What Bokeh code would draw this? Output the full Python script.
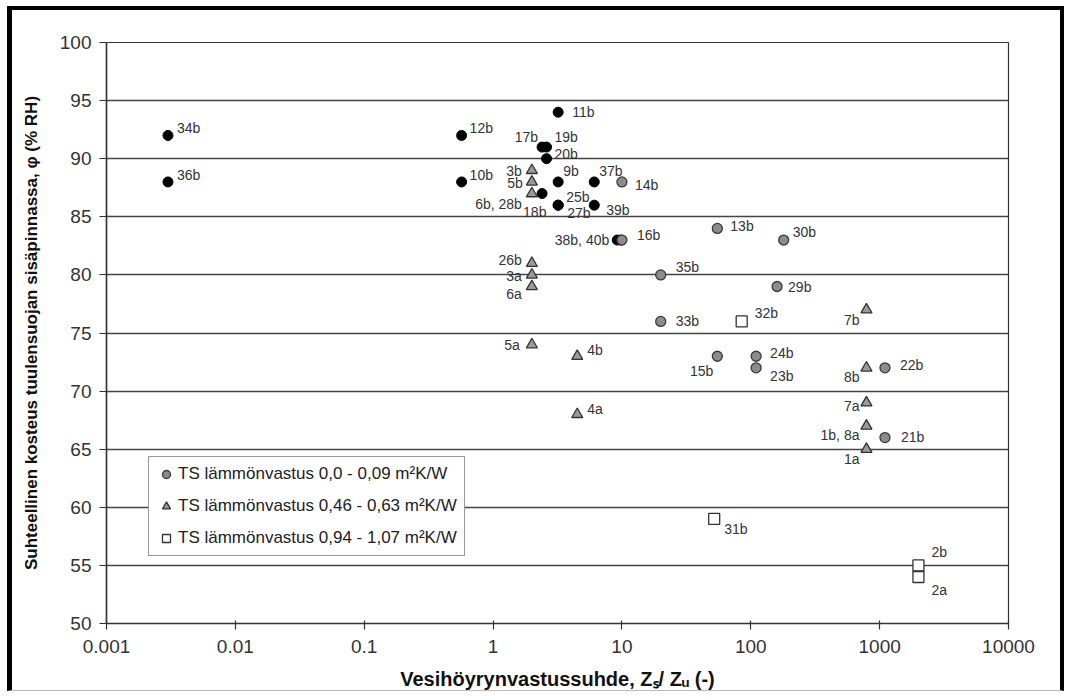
from bokeh.plotting import figure
from bokeh.models import (ColumnDataSource, FixedTicker, CustomJSTickFormatter,
                          Legend, LegendItem, Range1d)
from bokeh.embed import file_html
from bokeh.resources import INLINE
from bokeh.core.properties import value

FONT = "Liberation Sans"

# ---------------- data ----------------
# black circles (no legend entry)
black_x = [0.003, 0.003, 0.57, 0.57, 3.2, 2.4, 2.6, 2.6, 3.2, 6.1, 2.4, 3.2, 3.2, 6.1, 9.2, 9.8]
black_y = [92, 88, 92, 88, 94, 91, 91, 90, 88, 88, 87, 86, 86, 86, 83, 83]
black_lab = ["34b", "36b", "12b", "10b", "11b", "17b", "19b", "20b", "9b", "37b",
             "18b", "25b", "27b", "39b", "38b, 40b", ""]

# TS lämmönvastus 0,0 - 0,09 (grey circles)
grey_x = [10, 10, 55, 180, 20, 160, 20, 55, 110, 110, 1100, 1100]
grey_y = [88, 83, 84, 83, 80, 79, 76, 73, 73, 72, 72, 66]
grey_lab = ["14b", "16b", "13b", "30b", "35b", "29b", "33b", "15b", "24b", "23b", "22b", "21b"]

# TS lämmönvastus 0,46 - 0,63 (triangles)
tri_x = [2, 2, 2, 2, 2, 2, 2, 4.5, 4.5, 790, 790, 790, 790, 790]
tri_y = [89, 88, 87, 81, 80, 79, 74, 73, 68, 77, 72, 69, 67, 65]
tri_lab = ["3b", "5b", "6b, 28b", "26b", "3a", "6a", "5a", "4b", "4a", "7b", "8b", "7a", "1b, 8a", "1a"]

# TS lämmönvastus 0,94 - 1,07 (squares)
sq_x = [85, 52, 2000, 2000]
sq_y = [76, 59, 55, 54]
sq_lab = ["32b", "31b", "2b", "2a"]

x_ticks = [0.001, 0.01, 0.1, 1, 10, 100, 1000, 10000]
y_ticks = [50, 55, 60, 65, 70, 75, 80, 85, 90, 95, 100]

legend_labels = ["TS lämmönvastus 0,0 - 0,09 m²K/W",
                 "TS lämmönvastus 0,46 - 0,63 m²K/W",
                 "TS lämmönvastus 0,94 - 1,07 m²K/W"]

# label placement (screen px offsets, alignment) -- layout only
label_pos = {
    "34b": (9, -7, "left"), "36b": (9, -7, "left"), "12b": (8, -7, "left"),
    "10b": (8, -7, "left"), "11b": (14, 0, "left"), "17b": (-4, -10, "right"),
    "19b": (8, -10, "left"), "20b": (8, -5, "left"), "9b": (5, -11, "left"),
    "37b": (5, -11, "left"), "18b": (-19, 18, "left"), "25b": (8, -8, "left"),
    "27b": (9, 8, "left"), "39b": (12, 5, "left"), "38b, 40b": (-8, 0, "right"),
    "16b": (15, -5, "left"), "14b": (13, 3, "left"),
    "26b": (-10, -3, "right"), "3b": (-10, 1, "right"), "5b": (-9, 1, "right"),
    "6b, 28b": (-10, 10, "right"), "3a": (-10, 1, "right"), "6a": (-10, 7, "right"),
    "5a": (-12, 0, "right"), "4b": (10, -6, "left"), "4a": (10, -5, "left"),
    "13b": (13, -2, "left"), "30b": (9, -8, "left"), "35b": (15, -8, "left"),
    "29b": (11, 0, "left"), "33b": (15, 0, "left"), "32b": (13, -8, "left"),
    "7b": (-7, 10, "right"), "15b": (-4, 15, "right"), "24b": (14, -3, "left"),
    "23b": (14, 8, "left"), "8b": (-7, 9, "right"), "22b": (15, -3, "left"),
    "7a": (-7, 3, "right"), "1b, 8a": (-7, 9, "right"), "21b": (16, -1, "left"),
    "1a": (-7, 10, "right"), "31b": (10, 10, "left"), "2b": (13, -13, "left"),
    "2a": (13, 13, "left"),
}

# ---------------- figure ----------------
p = figure(width=1057, height=685, x_axis_type="log",
           x_range=Range1d(0.001, 10000), y_range=Range1d(50, 100),
           output_backend="svg", toolbar_location=None,
           min_border_left=94, min_border_right=61, min_border_top=32,
           min_border_bottom=72)
p.styles = {"margin-left": "7px", "margin-top": "6px",
            "border-left": "5px solid black", "border-top": "4px solid black",
            "border-right": "4px solid black", "border-bottom": "1px solid #bbbbbb"}
p.background_fill_color = "white"
p.border_fill_color = "white"
p.outline_line_color = "#333333"
p.outline_line_width = 1.2

p.xgrid.visible = False
p.ygrid.ticker = FixedTicker(ticks=y_ticks)
p.ygrid.grid_line_color = "#444444"
p.ygrid.grid_line_width = 1.6

p.xaxis.ticker = FixedTicker(ticks=x_ticks)
p.xaxis.formatter = CustomJSTickFormatter(code="return String(tick);")
p.yaxis.ticker = FixedTicker(ticks=y_ticks)
for ax in (p.xaxis[0], p.yaxis[0]):
    ax.axis_line_color = "#333333"
    ax.axis_line_width = 1.5
    ax.major_tick_line_color = "#333333"
    ax.major_tick_line_width = 1.2
    ax.minor_tick_line_color = None
    ax.major_label_text_font = FONT
    ax.major_label_text_font_size = "19px"
    ax.major_label_text_color = "#333333"
    ax.axis_label_text_font = FONT
    ax.axis_label_text_font_style = "bold"
    ax.axis_label_text_color = "#111111"
p.xaxis.axis_label_text_font_size = "20px"
p.yaxis.axis_label_text_font_size = "17px"
p.xaxis.major_tick_in = 3
p.xaxis.major_tick_out = 6
p.yaxis.major_tick_in = 0
p.yaxis.major_tick_out = 7
p.xaxis.major_label_standoff = 10
p.yaxis.major_label_standoff = 8
p.xaxis.axis_label = "Vesihöyrynvastussuhde, Zₛ/ Zᵤ (-)"
p.yaxis.axis_label = "Suhteellinen kosteus tuulensuojan sisäpinnassa, φ (% RH)"
p.xaxis.axis_label_standoff = 12
p.yaxis.axis_label_standoff = 16

# ---------------- markers ----------------
r_black = p.scatter(black_x, black_y, marker="circle", size=10,
                    fill_color="black", line_color="black")
r_grey = p.scatter(grey_x, grey_y, marker="circle", size=10,
                   fill_color="#8c8c8c", line_color="#3a3a3a", line_width=1.3)
r_tri = p.scatter(tri_x, tri_y, marker="triangle", size=11,
                  fill_color="#9a9a9a", line_color="#333333", line_width=1.3)
r_sq = p.scatter(sq_x, sq_y, marker="square", size=11,
                 fill_color="white", line_color="#333333", line_width=1.3)

# ---------------- point labels ----------------
all_x = black_x + grey_x + tri_x + sq_x
all_y = black_y + grey_y + tri_y + sq_y
all_lab = black_lab + grey_lab + tri_lab + sq_lab
for align in ("left", "right"):
    xs, ys, ts, dxs, dys = [], [], [], [], []
    for xv, yv, t in zip(all_x, all_y, all_lab):
        if not t:
            continue
        dx, dy, al = label_pos[t]
        if al != align:
            continue
        xs.append(xv); ys.append(yv); ts.append(t); dxs.append(dx); dys.append(dy)
    src = ColumnDataSource(dict(x=xs, y=ys, t=ts, dx=dxs, dy=dys))
    p.text(x="x", y="y", text="t", x_offset="dx", y_offset="dy", source=src,
           text_align=align, text_baseline="middle",
           text_font=value(FONT), text_font_size="14px", text_color="#333333")

# ---------------- legend ----------------
legend = Legend(items=[LegendItem(label=legend_labels[0], renderers=[r_grey]),
                       LegendItem(label=legend_labels[1], renderers=[r_tri]),
                       LegendItem(label=legend_labels[2], renderers=[r_sq])],
                location=(42, 67), orientation="vertical")
legend.label_text_font = FONT
legend.label_text_font_size = "17px"
legend.label_text_color = "#222222"
legend.glyph_width = 20
legend.glyph_height = 20
legend.label_height = 20
legend.label_standoff = 2
legend.spacing = 12
legend.padding = 7
legend.margin = 0
legend.border_line_color = "#333333"
legend.border_line_width = 1.2
legend.background_fill_alpha = 1
p.add_layout(legend)

open("out.html", "w").write(file_html(p, INLINE))
